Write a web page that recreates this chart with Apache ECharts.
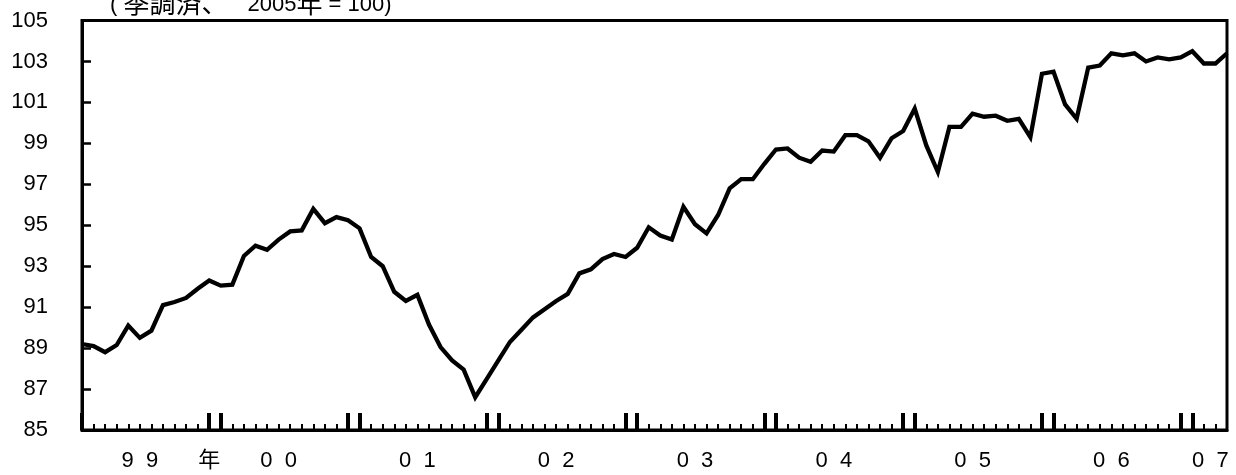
<!DOCTYPE html>
<html>
<head>
<meta charset="utf-8">
<script src="https://cdn.jsdelivr.net/npm/echarts@6/dist/echarts.min.js"></script>
<style>
html,body{margin:0;padding:0;background:#fff;}
#c{width:1236px;height:475px;}
</style>
</head>
<body>
<div id="c"></div>
<script>
// Monthly index, 1999/01 - 2007/04 (seasonally adjusted, 2005 = 100)
var startYear = 1999;
var months = [];
for (var k = 0; k < 100; k++) {
  var y = startYear + Math.floor(k / 12);
  var m = (k % 12) + 1;
  months.push(y + '/' + (m < 10 ? '0' + m : m));
}
var values = [
  89.2, 89.1, 88.8, 89.15, 90.1, 89.5, 89.85, 91.1, 91.25, 91.45, 91.9, 92.3,
  92.05, 92.1, 93.5, 94.0, 93.8, 94.3, 94.7, 94.75, 95.8, 95.1, 95.4, 95.25,
  94.85, 93.45, 93.0, 91.75, 91.3, 91.6, 90.15, 89.05, 88.4, 87.95, 86.6, 87.5,
  88.4, 89.3, 89.9, 90.5, 90.9, 91.3, 91.65, 92.65, 92.85, 93.35, 93.6, 93.45,
  93.9, 94.9, 94.5, 94.3, 95.9, 95.05, 94.6, 95.5, 96.8, 97.25, 97.25, 98.0,
  98.7, 98.75, 98.3, 98.1, 98.65, 98.6, 99.4, 99.4, 99.1, 98.3, 99.25, 99.6,
  100.7, 98.9, 97.6, 99.8, 99.8, 100.45, 100.3, 100.35, 100.1, 100.2, 99.3, 102.4,
  102.5, 100.9, 100.2, 102.7, 102.8, 103.4, 103.3, 103.4, 103.0, 103.2, 103.1, 103.2,
  103.5, 102.9, 102.9, 103.4
];
// x-axis tick labels (month they sit on -> text)
var xLabels = {
  '1999/06': '9  9',
  '1999/12': '年',
  '2000/06': '0  0',
  '2001/06': '0  1',
  '2002/06': '0  2',
  '2003/06': '0  3',
  '2004/06': '0  4',
  '2005/06': '0  5',
  '2006/06': '0  6',
  '2007/03': '{r|0  7}'
};
var yTicks = [85, 87, 89, 91, 93, 95, 97, 99, 101, 103, 105];
var titleParts = ['( ', '季調済、', '2005', '年', ' = 100)'];

var FONT = '"Liberation Sans", Arial, "Noto Sans CJK JP", sans-serif';
var CJK = '"Noto Sans CJK JP", sans-serif';
var chart = echarts.init(document.getElementById('c'), null, {renderer: 'canvas'});

function isYearEdge(idx, val) {
  var m = val.slice(5);
  return m === '12' || m === '01';
}

chart.setOption({
  animation: false,
  backgroundColor: '#fff',
  title: {
    text: '{a|' + titleParts[0] + '}{b|' + titleParts[1] + '}{c|' + titleParts[2] + '}{b|' + titleParts[3] + '}{a|' + titleParts[4] + '}',
    left: 110,
    top: -10,
    padding: 0,
    textStyle: {
      fontFamily: FONT, fontSize: 22, fontWeight: 'normal', color: '#000',
      rich: {
        a: {fontFamily: FONT, fontSize: 22, color: '#000', verticalAlign: 'bottom'},
        b: {fontFamily: CJK, fontSize: 26, color: '#000', verticalAlign: 'bottom'},
        c: {fontFamily: FONT, fontSize: 22, color: '#000', verticalAlign: 'bottom', padding: [0, 0, 0, 20]}
      }
    }
  },
  grid: {
    left: 82, right: 9, top: 20.5, bottom: 45,
    show: true, borderColor: '#000', borderWidth: 3, backgroundColor: 'transparent'
  },
  xAxis: [
    {
      type: 'category',
      data: months,
      boundaryGap: false,
      position: 'bottom',
      axisLine: {show: true, lineStyle: {color: '#000', width: 3}},
      axisTick: {show: true, inside: true, length: 6, interval: 0, lineStyle: {color: '#000', width: 2}},
      axisLabel: {
        show: true,
        interval: function (idx, val) { return xLabels.hasOwnProperty(val); },
        formatter: function (val) { return xLabels[val] || ''; },
        fontFamily: FONT, fontSize: 22, color: '#000', margin: 20,
        rich: {r: {fontFamily: FONT, fontSize: 22, color: '#000', padding: [0, 10, 0, 0]}}
      },
      splitLine: {show: false}
    },
    {
      type: 'category',
      data: months,
      boundaryGap: false,
      position: 'bottom',
      axisLine: {show: false},
      axisTick: {show: true, inside: true, length: 17, interval: isYearEdge, lineStyle: {color: '#000', width: 4}},
      axisLabel: {show: false},
      splitLine: {show: false}
    }
  ],
  yAxis: {
    type: 'value',
    min: yTicks[0],
    max: yTicks[yTicks.length - 1],
    interval: 2,
    axisLine: {show: true, lineStyle: {color: '#000', width: 3}},
    axisTick: {show: true, inside: true, length: 9, lineStyle: {color: '#000', width: 2.5}},
    axisLabel: {fontFamily: FONT, fontSize: 22, color: '#000', margin: 34},
    splitLine: {show: false}
  },
  series: [{
    type: 'line',
    data: values,
    xAxisIndex: 0,
    symbol: 'none',
    silent: true,
    lineStyle: {color: '#000', width: 4.3, join: 'miter'}
  }]
});
</script>
</body>
</html>
